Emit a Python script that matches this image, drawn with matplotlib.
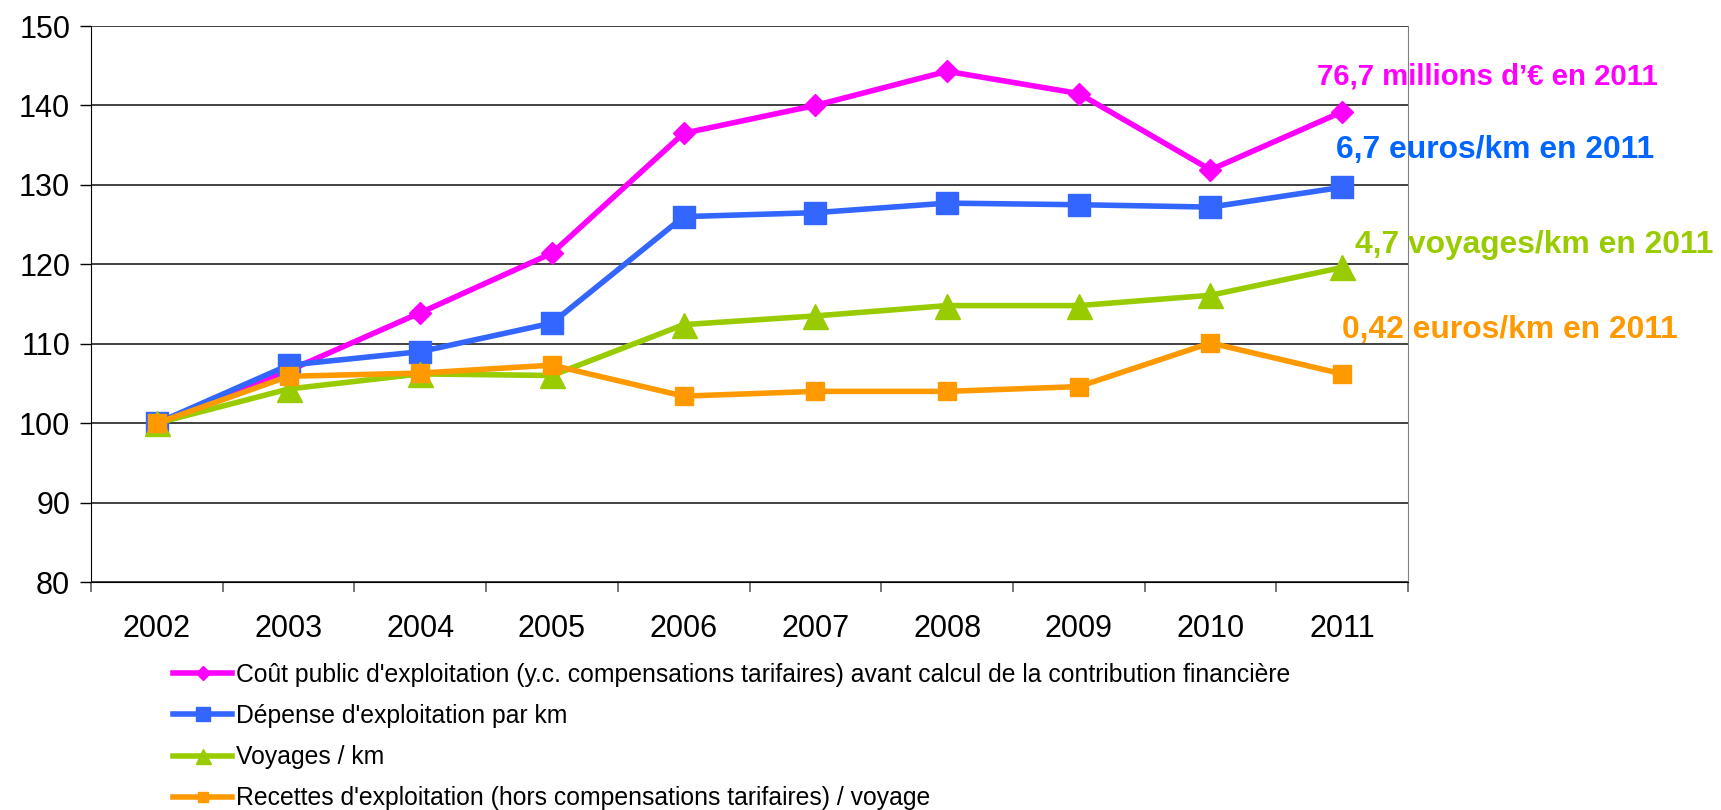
import matplotlib
matplotlib.use("Agg")
import matplotlib.pyplot as plt

plt.rcParams['font.family'] = ['Liberation Sans', 'DejaVu Sans']

# Indices base 100 en 2002
years = ['2002', '2003', '2004', '2005', '2006', '2007', '2008', '2009', '2010', '2011']
cout_public = [100, 106.6, 113.9, 121.4, 136.5, 140.0, 144.3, 141.5, 131.9, 139.2]
depense_km = [100, 107.3, 109.0, 112.6, 126.0, 126.5, 127.7, 127.5, 127.2, 129.7]
voyages_km = [100, 104.3, 106.2, 106.0, 112.4, 113.5, 114.8, 114.8, 116.1, 119.6]
recettes_voyage = [100, 105.9, 106.3, 107.3, 103.4, 104.0, 104.0, 104.6, 110.1, 106.2]

labels = [
    "Coût public d'exploitation (y.c. compensations tarifaires) avant calcul de la contribution financière",
    "Dépense d'exploitation par km",
    "Voyages / km",
    "Recettes d'exploitation (hors compensations tarifaires) / voyage",
]
notes = [
    "76,7 millions d\u2019€ en 2011",
    "6,7 euros/km en 2011",
    "4,7 voyages/km en 2011",
    "0,42 euros/km en 2011",
]

fig = plt.figure(figsize=(17.21, 8.10), dpi=100)
ax = fig.add_axes([0.0529, 0.28148, 0.76525, 0.68642])

x = range(len(years))
h1, = ax.plot(x, cout_public, color='#FF00FF', lw=4, marker='D', ms=11.5, label=labels[0])
h2, = ax.plot(x, depense_km, color='#3366FF', lw=4, marker='s', ms=16.5, label=labels[1])
h3, = ax.plot(x, voyages_km, color='#99CC00', lw=4, marker='^', ms=18, label=labels[2])
h4, = ax.plot(x, recettes_voyage, color='#FF9900', lw=4, marker='s', ms=13, label=labels[3])

# valeurs 2011 en clair, a droite des courbes
ax.text(8.81, 143.6, notes[0], color='#FF00FF', fontsize=21.2, fontweight='bold', va='center', clip_on=False)
ax.text(8.95, 134.4, notes[1], color='#0066FF', fontsize=22.9, fontweight='bold', va='center', clip_on=False)
ax.text(9.10, 122.4, notes[2], color='#99CC00', fontsize=22.9, fontweight='bold', va='center', clip_on=False)
ax.text(9.00, 111.7, notes[3], color='#FF9900', fontsize=22.9, fontweight='bold', va='center', clip_on=False)

ax.set_xlim(-0.5, len(years) - 0.5)
ax.set_ylim(80, 150)
ax.set_yticks(range(80, 151, 10))
ax.yaxis.grid(True, color='#333333', lw=1.3)
ax.set_axisbelow(True)

# graduations entre les categories, libelles au centre
ax.set_xticks([i - 0.5 for i in range(len(years) + 1)])
ax.set_xticklabels([])
ax.set_xticks(list(x), minor=True)
ax.set_xticklabels(years, minor=True)
ax.tick_params(axis='x', which='major', direction='out', length=7, width=1.2, color='#606060')
ax.tick_params(axis='x', which='minor', length=0, pad=23, labelsize=22)
ax.tick_params(axis='y', direction='out', length=8, width=1, pad=7, labelsize=22)

ax.spines['top'].set_visible(False)
ax.spines['right'].set_color('#808080')
ax.spines['left'].set_color('black')
ax.spines['bottom'].set_color('black')

fig.legend(handles=[h1, h2, h3, h4], loc='upper left', bbox_to_anchor=(0.1005, 0.182),
           frameon=False, fontsize=17.8, numpoints=1, markerscale=0.6,
           handlelength=2.4, handletextpad=0.15, labelspacing=0.70,
           borderpad=0, borderaxespad=0)

fig.savefig('out.png', dpi=100)
